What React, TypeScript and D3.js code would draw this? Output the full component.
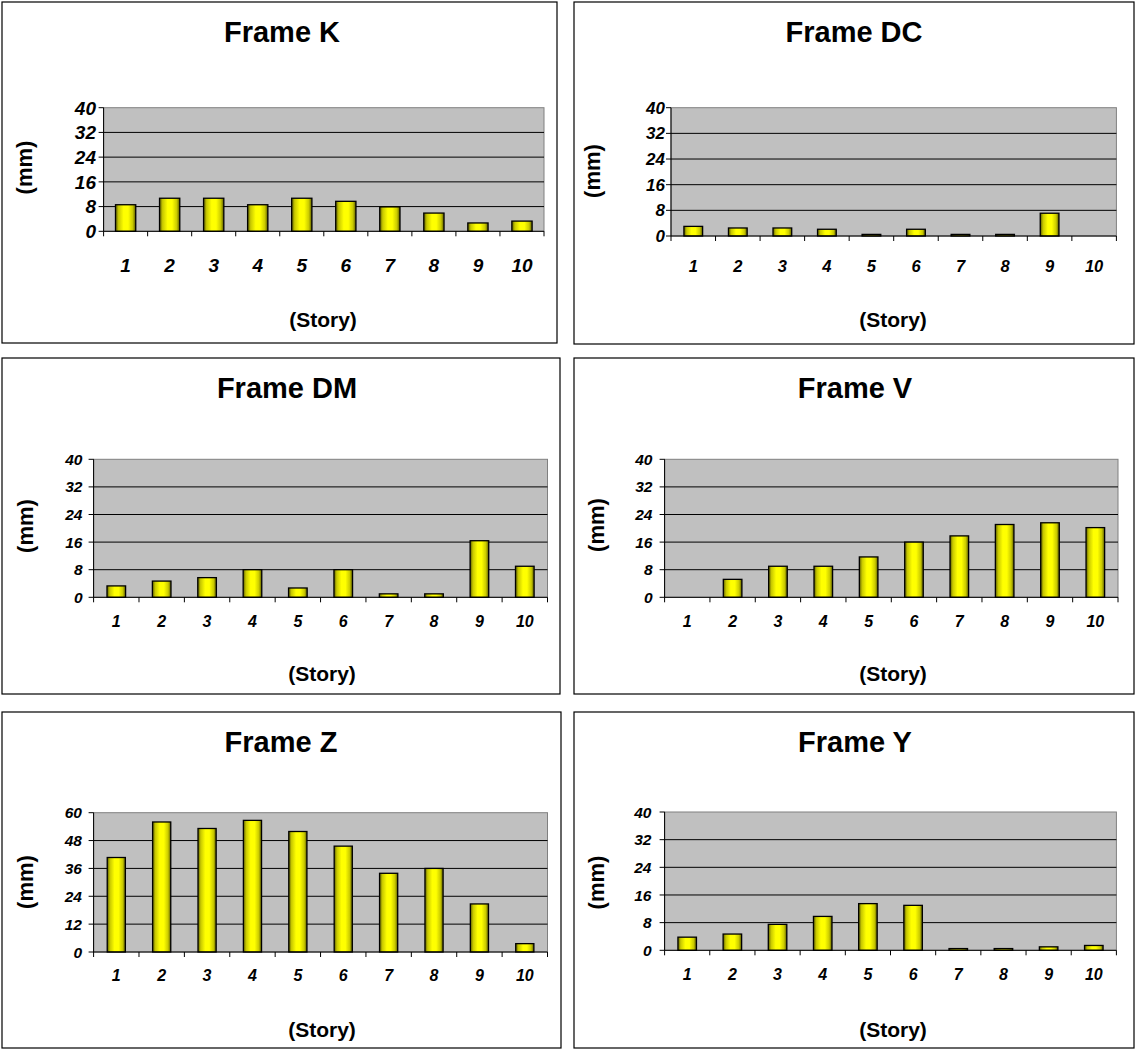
import * as d3 from 'd3'

// story numbers on the x axis
const stories = ['1', '2', '3', '4', '5', '6', '7', '8', '9', '10']

// y tick labels
const ticks40 = [0, 8, 16, 24, 32, 40]
const ticks60 = [0, 12, 24, 36, 48, 60]

// displacement per story (mm)
const frameK = [8.6, 10.7, 10.7, 8.6, 10.7, 9.7, 7.9, 5.9, 2.7, 3.3]
const frameDC = [3.0, 2.5, 2.5, 2.1, 0.5, 2.1, 0.5, 0.5, 7.1, 0]
const frameDM = [3.3, 4.7, 5.7, 8.0, 2.7, 8.0, 1.0, 1.0, 16.4, 9.0]
const frameV = [0, 5.2, 9.0, 9.0, 11.7, 16.0, 17.8, 21.1, 21.6, 20.2]
const frameZ = [40.7, 56.0, 53.2, 56.7, 51.9, 45.6, 33.9, 36.0, 20.7, 3.6]
const frameY = [3.8, 4.7, 7.5, 9.8, 13.5, 13.0, 0.5, 0.5, 1.0, 1.4]

const FONT = '"Liberation Sans", Arial, sans-serif'

const panels = [
  { title: 'Frame K', values: frameK, ticks: ticks40, box: [2, 2, 557, 343], plot: [103.6, 107.7, 544, 231.3], titleX: 282, titleY: 41.5, mm: [24, 167.5], story: [323, 327], yFont: 19, xFont: 19, yLabRight: 96, xLabY: 272, barFrac: 0.46 },
  { title: 'Frame DC', values: frameDC, ticks: ticks40, box: [574, 2, 1134, 344], plot: [671, 107.7, 1116.4, 236], titleX: 854, titleY: 41.5, mm: [592, 171], story: [893, 327], yFont: 17, xFont: 16.5, yLabRight: 665, xLabY: 272, barFrac: 0.42 },
  { title: 'Frame DM', values: frameDM, ticks: ticks40, box: [2, 358, 560, 694], plot: [93.6, 459.3, 547.5, 597.3], titleX: 287, titleY: 398, mm: [25, 526], story: [322, 681], yFont: 15.5, xFont: 16, yLabRight: 82.5, xLabY: 627, barFrac: 0.41 },
  { title: 'Frame V', values: frameV, ticks: ticks40, box: [574, 358, 1134, 694], plot: [664.6, 459.3, 1118, 597.3], titleX: 855, titleY: 398, mm: [596, 525], story: [893, 681], yFont: 15.5, xFont: 16, yLabRight: 652.5, xLabY: 627, barFrac: 0.41 },
  { title: 'Frame Z', values: frameZ, ticks: ticks60, box: [2, 712, 561, 1048], plot: [93.6, 812.7, 547.5, 952], titleX: 281, titleY: 752, mm: [25, 882], story: [322, 1037], yFont: 15.5, xFont: 16, yLabRight: 82, xLabY: 981, barFrac: 0.4 },
  { title: 'Frame Y', values: frameY, ticks: ticks40, box: [574, 712, 1134, 1048], plot: [664.6, 812, 1116.4, 950.3], titleX: 855, titleY: 752, mm: [596, 882.5], story: [893, 1037], yFont: 15.5, xFont: 16, yLabRight: 651.5, xLabY: 980, barFrac: 0.41 },
]

function Panel({ p }) {
  const [bx0, by0, bx1, by1] = p.box
  const [px0, py0, px1, py1] = p.plot
  const x = d3.scaleBand().domain(stories).range([px0, px1]).padding(0)
  const y = d3
    .scaleLinear()
    .domain([0, d3.max(p.ticks)])
    .range([py1, py0])
  const bw = x.bandwidth() * p.barFrac

  return (
    <g>
      <rect x={bx0} y={by0} width={bx1 - bx0} height={by1 - by0} fill="#fff" stroke="#000" strokeWidth={1.2} />
      <text x={p.titleX} y={p.titleY} textAnchor="middle" fontFamily={FONT} fontWeight="bold" fontSize={29} fill="#000">
        {p.title}
      </text>

      <rect x={px0} y={py0} width={px1 - px0} height={py1 - py0} fill="#c0c0c0" stroke="#808080" strokeWidth={1} />
      {p.ticks.slice(1, -1).map((t) => (
        <line key={t} x1={px0} x2={px1} y1={y(t)} y2={y(t)} stroke="#000" strokeWidth={1} />
      ))}

      {p.values.map((v, i) =>
        v > 0 ? (
          <rect
            key={i}
            x={(x(stories[i]) || 0) + (x.bandwidth() - bw) / 2}
            y={y(v)}
            width={bw}
            height={py1 - y(v)}
            fill="url(#barGrad)"
            stroke="#000"
            strokeWidth={1.3}
          />
        ) : null
      )}

      {/* axes */}
      <line x1={px0} x2={px0} y1={py0} y2={py1} stroke="#000" strokeWidth={1} />
      <line x1={px0} x2={px1} y1={py1} y2={py1} stroke="#000" strokeWidth={1} />
      {p.ticks.map((t) => (
        <g key={t}>
          <line x1={px0 - 5} x2={px0} y1={y(t)} y2={y(t)} stroke="#000" strokeWidth={1} />
          <text
            x={p.yLabRight}
            y={y(t)}
            dy="0.36em"
            textAnchor="end"
            fontFamily={FONT}
            fontWeight="bold"
            fontStyle="italic"
            fontSize={p.yFont}
            fill="#000"
          >
            {t}
          </text>
        </g>
      ))}
      {stories.map((s) => (
        <line key={'t' + s} x1={x(s)} x2={x(s)} y1={py1} y2={py1 + 5} stroke="#000" strokeWidth={1} />
      ))}
      <line x1={px1} x2={px1} y1={py1} y2={py1 + 5} stroke="#000" strokeWidth={1} />
      {stories.map((s) => (
        <text
          key={'l' + s}
          x={(x(s) || 0) + x.bandwidth() / 2}
          y={p.xLabY}
          textAnchor="middle"
          fontFamily={FONT}
          fontWeight="bold"
          fontStyle="italic"
          fontSize={p.xFont}
          fill="#000"
        >
          {s}
        </text>
      ))}

      <text
        transform={`translate(${p.mm[0]},${p.mm[1]}) rotate(-90)`}
        textAnchor="middle"
        dy="0.36em"
        fontFamily={FONT}
        fontWeight="bold"
        fontSize={22}
        fill="#000"
      >
        (mm)
      </text>
      <text x={p.story[0]} y={p.story[1]} textAnchor="middle" fontFamily={FONT} fontWeight="bold" fontSize={21} fill="#000">
        (Story)
      </text>
    </g>
  )
}

export default function App() {
  return (
    <div style={{ position: 'absolute', left: 0, top: 0 }}>
      <svg width={1136} height={1050} style={{ display: 'block', background: '#fff' }}>
        <defs>
          <linearGradient id="barGrad" x1="0" x2="1" y1="0" y2="0">
            <stop offset="0%" stopColor="#5a5a00" />
            <stop offset="15%" stopColor="#c8c800" />
            <stop offset="40%" stopColor="#ffff00" />
            <stop offset="62%" stopColor="#ffff00" />
            <stop offset="85%" stopColor="#caca00" />
            <stop offset="100%" stopColor="#5a5a00" />
          </linearGradient>
        </defs>
        {panels.map((p) => (
          <Panel key={p.title} p={p} />
        ))}
      </svg>
    </div>
  )
}
